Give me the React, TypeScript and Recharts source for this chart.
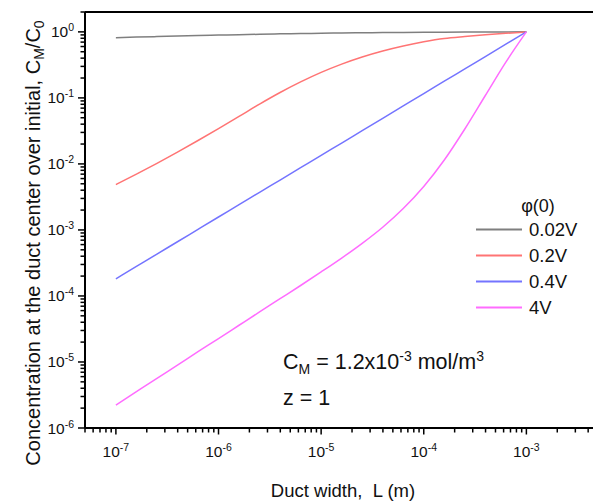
import { LineChart, Line, XAxis, YAxis, ReferenceLine } from 'recharts'

// duct width L (m), fifth-decade steps, and C_M/C_0 for each surface potential
const widths = [1e-7, 1.585e-7, 2.512e-7, 3.981e-7, 6.31e-7, 1e-6, 1.585e-6, 2.512e-6, 3.981e-6, 6.31e-6, 1e-5, 1.585e-5, 2.512e-5, 3.981e-5, 6.31e-5, 1e-4, 1.585e-4, 2.512e-4, 3.981e-4, 6.31e-4, 1e-3]
const phi002 = [0.817, 0.834, 0.849, 0.864, 0.879, 0.894, 0.907, 0.92, 0.933, 0.942, 0.952, 0.962, 0.969, 0.976, 0.981, 0.986, 0.989, 0.993, 0.996, 0.998, 1]
const phi02 = [4.86e-3, 7.01e-3, 0.01021, 0.01509, 0.02262, 0.03425, 0.05244, 0.08054, 0.1207, 0.1747, 0.2434, 0.3252, 0.4166, 0.5135, 0.6113, 0.7079, 0.7943, 0.8517, 0.9038, 0.9524, 1]
const phi04 = [1.82e-4, 2.8e-4, 4.31e-4, 6.62e-4, 1.02e-3, 1.57e-3, 2.41e-3, 3.71e-3, 5.7e-3, 8.77e-3, 0.0135, 0.0207, 0.0319, 0.0491, 0.0755, 0.116, 0.179, 0.275, 0.423, 0.65, 1]
const phi4 = [2.23e-6, 3.55e-6, 5.65e-6, 8.98e-6, 1.43e-5, 2.26e-5, 3.6e-5, 5.73e-5, 9.08e-5, 1.44e-4, 2.31e-4, 3.75e-4, 6.27e-4, 1.1e-3, 2.11e-3, 4.55e-3, 0.01146, 0.0338, 0.1087, 0.3486, 1]

const seriesKeys = ['g', 'r', 'b', 'm']
const seriesNames = ['0.02V', '0.2V', '0.4V', '4V']
const seriesColors = ['#7f7f7f', '#ff7474', '#7474ff', '#ff6cff']

const xMajorExp = [-7, -6, -5, -4, -3]
const yMajorExp = [0, -1, -2, -3, -4, -5, -6]

const data = widths.map((L, i) => ({ L, g: phi002[i], r: phi02[i], b: phi04[i], m: phi4[i] }))

const xDomain = [5e-8, 1e-2]
const yDomain = [1e-6, 2]

function logTicks(lo: number, hi: number) {
  const out: number[] = []
  for (let e = Math.floor(Math.log10(lo)); e <= Math.ceil(Math.log10(hi)); e++) {
    for (let k = 1; k <= 9; k++) {
      const v = k * Math.pow(10, e)
      if (v >= lo * 0.999 && v <= hi * 1.001) out.push(v)
    }
  }
  return out
}

const xTicks = logTicks(xDomain[0], xDomain[1])
const yTicks = logTicks(yDomain[0], yDomain[1])

const font = '"Liberation Sans", Arial, sans-serif'

function majorExp(v: number) {
  const e = Math.round(Math.log10(v))
  return Math.abs(v - Math.pow(10, e)) / v < 1e-6 ? e : null
}

function XTick({ x, y, payload }: any) {
  const e = majorExp(payload.value)
  return (
    <g>
      <line x1={x} x2={x} y1={y} y2={y + (e !== null ? 6.5 : 4.5)} stroke="#000" strokeWidth={1.5} />
      {e !== null && xMajorExp.includes(e) && (
        <text x={x} y={y + 29} textAnchor="middle" fontSize={15.5} fontFamily={font} fill="#111">
          10<tspan dy={-6} fontSize={10.5}>{e}</tspan>
        </text>
      )}
    </g>
  )
}

function YTick({ x, y, payload }: any) {
  const e = majorExp(payload.value)
  return (
    <g>
      <line x1={x} x2={x - (e !== null ? 7 : 4.5)} y1={y} y2={y} stroke="#000" strokeWidth={1.5} />
      {e !== null && yMajorExp.includes(e) && (
        <text x={x - 11} y={y + 5.5} textAnchor="end" fontSize={15.5} fontFamily={font} fill="#111">
          10<tspan dy={-6} fontSize={10.5}>{e}</tspan>
        </text>
      )}
    </g>
  )
}

export default function App() {
  return (
    <div style={{ position: 'fixed', left: 0, top: 0, width: 593, height: 503, overflow: 'hidden', background: '#fff' }}>
      <LineChart width={640} height={503} data={data} margin={{ top: 12, right: 11, bottom: 0, left: 0 }}>
        <XAxis
          dataKey="L"
          type="number"
          scale="log"
          domain={xDomain}
          allowDataOverflow
          ticks={xTicks}
          interval={0}
          tick={<XTick />}
          tickLine={false}
          tickSize={0}
          tickMargin={0}
          height={75}
          axisLine={{ stroke: '#000', strokeWidth: 2 }}
        />
        <YAxis
          type="number"
          scale="log"
          domain={yDomain}
          allowDataOverflow
          ticks={yTicks}
          interval={0}
          tick={<YTick />}
          tickLine={false}
          tickSize={0}
          tickMargin={0}
          width={85}
          axisLine={{ stroke: '#000', strokeWidth: 2 }}
        />
        <ReferenceLine y={yDomain[1]} stroke="#000" strokeWidth={2} />
        {seriesKeys.map((k, i) => (
          <Line
            key={k}
            dataKey={k}
            type="monotone"
            stroke={seriesColors[i]}
            strokeWidth={1.5}
            dot={false}
            isAnimationActive={false}
          />
        ))}
      </LineChart>
      <svg width={593} height={503} style={{ position: 'absolute', left: 0, top: 0, pointerEvents: 'none' }} fontFamily={font} fill="#111">
        <text transform="translate(40,243) rotate(-90)" textAnchor="middle" fontSize={20}>
          Concentration at the duct center over initial, C<tspan fontSize={14} dy={4}>M</tspan>
          <tspan dy={-4}>/C</tspan>
          <tspan fontSize={14} dy={4}>0</tspan>
        </text>
        <text x={343} y={497} textAnchor="middle" fontSize={18.5} style={{ whiteSpace: 'pre' }}>
          Duct width,  L (m)
        </text>
        <text x={538} y={212} textAnchor="middle" fontSize={18}>φ(0)</text>
        {seriesNames.map((n, i) => (
          <g key={n}>
            <line x1={476} x2={522} y1={229.5 + i * 26} y2={229.5 + i * 26} stroke={seriesColors[i]} strokeWidth={2} />
            <text x={529} y={236 + i * 26} fontSize={18.5}>{n}</text>
          </g>
        ))}
        <text x={283} y={369} fontSize={21.5}>
          C<tspan fontSize={14} dy={5}>M</tspan>
          <tspan dy={-5}> = 1.2x10</tspan>
          <tspan fontSize={14} dy={-8}>-3</tspan>
          <tspan dy={8}> mol/m</tspan>
          <tspan fontSize={14} dy={-8}>3</tspan>
        </text>
        <text x={283} y={405} fontSize={21.5}>z = 1</text>
      </svg>
    </div>
  )
}
